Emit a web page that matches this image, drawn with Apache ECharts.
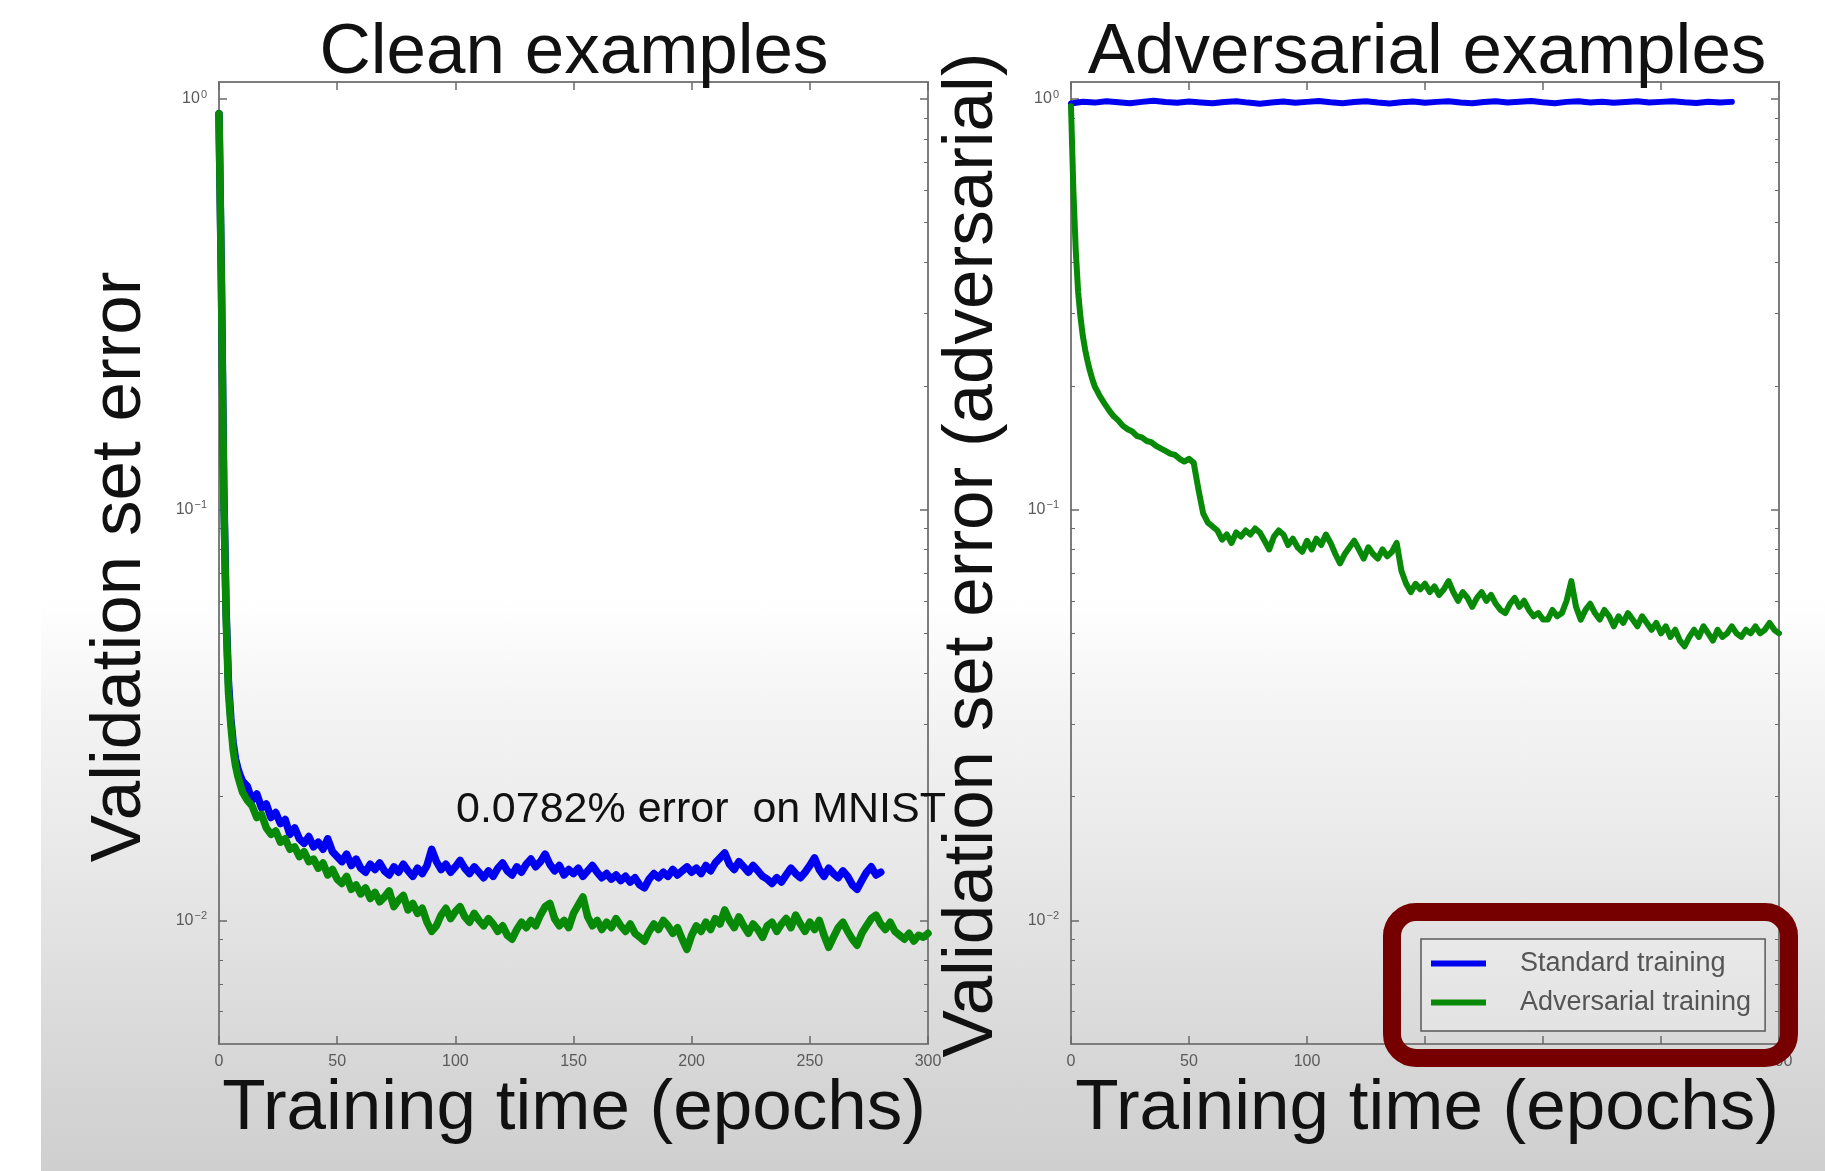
<!DOCTYPE html>
<html>
<head>
<meta charset="utf-8">
<script src="https://cdn.jsdelivr.net/npm/echarts@6/dist/echarts.min.js"></script>
<style>
  html, body { margin: 0; padding: 0; }
  #wrap {
    position: relative; width: 1825px; height: 1171px; overflow: hidden;
    background: linear-gradient(to bottom, #ffffff 0px, #ffffff 600px, #f3f3f3 720px, #e9e9e9 850px, #dedede 980px, #d4d4d4 1100px, #cfcfcf 1171px);
  }
  #strip { position: absolute; left: 0; top: 0; width: 41px; height: 1171px; background: #ffffff; }
  #chart { position: absolute; left: 0; top: 0; width: 1825px; height: 1171px; }
</style>
</head>
<body>
<div id="wrap"><div id="strip"></div><div id="chart"></div></div>
<script>
// Training epochs at which the validation error was recorded
const epochs = [0,1,2,3,4,5,6,7,8,9,10,12,14,16,18,20,22,24,26,28,30,32,34,36,38,40,42,44,46,48,50,
  52,54,56,58,60,62,64,66,68,70,72,74,76,78,80,82,84,86,88,90,92,94,96,98,100,
  102,104,106,108,110,112,114,116,118,120,122,124,126,128,130,132,134,136,138,140,142,144,146,148,150,
  152,154,156,158,160,162,164,166,168,170,172,174,176,178,180,182,184,186,188,190,192,194,196,198,200,
  202,204,206,208,210,212,214,216,218,220,222,224,226,228,230,232,234,236,238,240,242,244,246,248,250,
  252,254,256,258,260,262,264,266,268,270,272,274,276,278,280,282,284,286,288,290,292,294,296,298,300];

// Standard-training model evaluated on the adversarial set is logged every 5 epochs
const advStdEpochs = [0,5,10,15,20,25,30,35,40,45,50,55,60,65,70,75,80,85,90,95,100,105,110,115,120,125,130,135,140,145,
  150,155,160,165,170,175,180,185,190,195,200,205,210,215,220,225,230,235,240,245,250,255,260,265,270,275,280];

// Clean validation error, standard training
const cleanStd = [0.92,0.37,0.115,0.057,0.038,0.031,0.027,0.0247,0.0234,0.0225,0.0218,
  0.0212,0.0196,0.0203,0.0188,0.0192,0.0178,0.0183,0.0172,0.0176,0.0162,0.0168,0.0158,0.0154,0.0160,0.0151,0.0155,0.0149,0.0158,0.0147,0.0143,
  0.0139,0.0145,0.0136,0.0141,0.0134,0.0131,0.0137,0.0133,0.0138,0.0132,0.0129,0.0135,0.0131,0.0137,0.0132,0.0128,0.0134,0.0130,0.0136,0.0149,0.0139,0.0133,0.0137,0.0131,0.0135,
  0.0140,0.0134,0.0130,0.0135,0.0131,0.0127,0.0132,0.0128,0.0134,0.0138,0.0132,0.0129,0.0135,0.0131,0.0137,0.0141,0.0135,0.0139,0.0145,0.0137,0.0132,0.0136,0.0129,0.0133,0.0130,
  0.0134,0.0128,0.0132,0.0136,0.0131,0.0127,0.0130,0.0126,0.0129,0.0125,0.0128,0.0124,0.0127,0.0122,0.0120,0.0126,0.0130,0.0127,0.0131,0.0128,0.0133,0.0129,0.0132,0.0135,0.0131,
  0.0134,0.0130,0.0136,0.0132,0.0138,0.0142,0.0146,0.0137,0.0133,0.0139,0.0135,0.0131,0.0136,0.0132,0.0128,0.0126,0.0123,0.0127,0.0124,0.0129,0.0134,0.0130,0.0127,0.0131,0.0136,
  0.0142,0.0133,0.0128,0.0134,0.0130,0.0127,0.0132,0.0128,0.0122,0.0119,0.0125,0.0131,0.0135,0.0129,0.0131];

// Clean validation error, adversarial training
const cleanAdv = [0.92,0.36,0.11,0.055,0.036,0.030,0.026,0.0238,0.0224,0.0214,0.0205,
  0.0196,0.0190,0.0178,0.0181,0.0168,0.0162,0.0165,0.0155,0.0158,0.0149,0.0151,0.0143,0.0147,0.0139,0.0141,0.0134,0.0138,0.0129,0.0133,0.0126,
  0.0123,0.0128,0.0119,0.0122,0.0116,0.0120,0.0113,0.0117,0.0111,0.0114,0.0118,0.0108,0.0112,0.0115,0.0106,0.0110,0.0104,0.0107,0.0099,0.0094,0.0097,0.0103,0.0107,0.0101,0.0105,
  0.0108,0.0102,0.0099,0.0104,0.0100,0.0097,0.0101,0.0098,0.0094,0.0097,0.0092,0.0090,0.0095,0.0099,0.0096,0.0100,0.0097,0.0103,0.0108,0.0110,0.0101,0.0097,0.0100,0.0096,0.0104,
  0.0109,0.0114,0.0102,0.0097,0.0100,0.0095,0.0099,0.0096,0.0101,0.0097,0.0094,0.0098,0.0093,0.0091,0.0089,0.0094,0.0098,0.0095,0.0100,0.0097,0.0093,0.0096,0.0090,0.0085,0.0092,
  0.0097,0.0094,0.0099,0.0095,0.0101,0.0098,0.0106,0.0100,0.0096,0.0102,0.0097,0.0093,0.0098,0.0095,0.0091,0.0097,0.0099,0.0094,0.0098,0.0101,0.0096,0.0103,0.0098,0.0094,0.0099,
  0.0095,0.0100,0.0092,0.0086,0.0091,0.0096,0.0099,0.0094,0.0090,0.0087,0.0093,0.0097,0.0101,0.0103,0.0098,0.0095,0.0099,0.0094,0.0092,0.0090,0.0093,0.0089,0.0092,0.0091,0.0093];

// Adversarial validation error, standard training
const advStd = [0.975,0.985,0.980,0.988,0.982,0.977,0.984,0.990,0.983,0.979,0.986,0.981,0.976,0.983,0.988,0.980,0.974,0.981,0.986,0.979,
  0.984,0.989,0.982,0.977,0.983,0.987,0.980,0.975,0.982,0.986,0.979,0.984,0.988,0.981,0.976,0.983,0.987,0.980,0.985,0.989,
  0.982,0.977,0.984,0.988,0.981,0.985,0.979,0.983,0.987,0.980,0.984,0.988,0.982,0.978,0.985,0.981,0.984];

// Adversarial validation error, adversarial training
const advAdv = [0.96,0.60,0.43,0.34,0.295,0.265,0.245,0.230,0.218,0.208,0.200,
  0.190,0.182,0.175,0.169,0.165,0.160,0.157,0.155,0.151,0.150,0.147,0.146,0.143,0.141,0.139,0.137,0.136,0.133,0.131,0.133,
  0.130,0.112,0.098,0.093,0.091,0.089,0.0845,0.087,0.083,0.088,0.086,0.089,0.087,0.090,0.088,0.084,0.080,0.086,0.089,0.087,0.082,0.085,0.081,0.079,0.084,
  0.080,0.085,0.082,0.087,0.083,0.078,0.074,0.078,0.081,0.084,0.080,0.076,0.081,0.078,0.076,0.080,0.077,0.079,0.083,0.071,0.066,0.063,0.066,0.064,0.066,
  0.063,0.065,0.062,0.064,0.067,0.063,0.060,0.063,0.061,0.058,0.061,0.063,0.060,0.062,0.059,0.057,0.056,0.059,0.061,0.058,0.060,0.057,0.055,0.056,0.054,
  0.054,0.057,0.055,0.056,0.060,0.067,0.058,0.054,0.057,0.059,0.056,0.054,0.057,0.055,0.052,0.055,0.053,0.056,0.054,0.052,0.055,0.053,0.051,0.053,0.050,
  0.052,0.049,0.051,0.048,0.0465,0.049,0.051,0.049,0.052,0.050,0.048,0.051,0.049,0.050,0.052,0.050,0.049,0.051,0.050,0.052,0.050,0.051,0.053,0.051,0.050];

// Axis ticks
const xTicks = [0, 50, 100, 150, 200, 250, 300];
const yMajor = [0.01, 0.1, 1];
const yMinor = [0.006, 0.007, 0.008, 0.009, 0.02, 0.03, 0.04, 0.05, 0.06, 0.07, 0.08, 0.09,
  0.2, 0.3, 0.4, 0.5, 0.6, 0.7, 0.8, 0.9];

const FONT = '"Liberation Sans", Arial, Helvetica, sans-serif';
const BLUE = '#0000f0';
const GREEN = '#088a08';
const TICK = '#6a6a6a';
const TICKTXT = '#5a5a5a';

const pairs = (xs, ys) => ys.map((v, i) => [xs[i], v]);

function xAxisFor(g, pos) {
  return {
    type: 'value', gridIndex: g, position: pos,
    min: xTicks[0], max: xTicks[xTicks.length - 1], interval: 50,
    axisLine: { show: false }, splitLine: { show: false },
    axisTick: { show: true, inside: true, length: 8, lineStyle: { color: TICK, width: 1.5 } },
    axisLabel: { show: pos === 'bottom', margin: 10, color: TICKTXT, fontSize: 16, fontFamily: FONT }
  };
}

function decadeLabel(v) {
  const e = Math.round(Math.log10(v));
  return '{b|10}{s|' + String(e).replace('-', '\u2212') + '}';
}

function yAxisFor(g, pos, major) {
  return {
    type: 'log', logBase: 10, gridIndex: g, position: pos,
    min: 0.005, max: 1.1,
    axisLine: { show: false }, splitLine: { show: false }, minorTick: { show: false },
    axisTick: {
      show: true, inside: true, length: major ? 8 : 4,
      customValues: major ? yMajor : yMinor,
      lineStyle: { color: TICK, width: major ? 1.5 : 1 }
    },
    axisLabel: {
      show: major && pos === 'left', customValues: yMajor, margin: 12,
      formatter: decadeLabel,
      rich: {
        b: { fontSize: 16, color: TICKTXT, fontFamily: FONT },
        s: { fontSize: 11, color: TICKTXT, fontFamily: FONT, padding: [0, 0, 9, 1] }
      }
    }
  };
}

function lineSeries(name, data, g, color, width) {
  return {
    name: name, type: 'line', data: data,
    xAxisIndex: g * 2, yAxisIndex: g * 4,
    showSymbol: false, symbol: 'none', clip: true,
    color: color, itemStyle: { color: color },
    lineStyle: { color: color, width: width, join: 'round', cap: 'round' }
  };
}

const bigFont = (size) => size + 'px ' + FONT;
function label(text, x, y, size, rot, align) {
  return {
    type: 'text', x: x, y: y, rotation: rot || 0, z: 60,
    style: { text: text, font: bigFont(size), fill: '#111', align: align || 'center', verticalAlign: 'middle' }
  };
}

const chart = echarts.init(document.getElementById('chart'), null, { renderer: 'canvas' });
chart.setOption({
  animation: false,
  backgroundColor: 'transparent',
  grid: [
    { left: 219, top: 82, width: 709, height: 962, show: true, borderColor: '#7d7d7d', borderWidth: 2, backgroundColor: 'transparent' },
    { left: 1071, top: 82, width: 708, height: 962, show: true, borderColor: '#7d7d7d', borderWidth: 2, backgroundColor: 'transparent' }
  ],
  xAxis: [xAxisFor(0, 'bottom'), xAxisFor(0, 'top'), xAxisFor(1, 'bottom'), xAxisFor(1, 'top')],
  yAxis: [
    yAxisFor(0, 'left', true), yAxisFor(0, 'left', false), yAxisFor(0, 'right', true), yAxisFor(0, 'right', false),
    yAxisFor(1, 'left', true), yAxisFor(1, 'left', false), yAxisFor(1, 'right', true), yAxisFor(1, 'right', false)
  ],
  legend: {
    data: ['Standard training', 'Adversarial training'],
    orient: 'vertical', left: 1421, top: 939,
    padding: [11, 14, 15, 10], itemGap: 12,
    itemWidth: 84, itemHeight: 6,
    icon: 'path://M0,0H55V6H0Z M84,3L84.01,3',
    itemStyle: { borderWidth: 0 },
    textStyle: { fontSize: 27, color: '#555', fontFamily: FONT, lineHeight: 27 },
    borderColor: '#5a5a5a', borderWidth: 1.5, backgroundColor: 'rgba(255,255,255,0.25)',
    selectedMode: false, z: 20
  },
  series: [
    lineSeries('Standard training', pairs(epochs, cleanStd), 0, BLUE, 7.5),
    lineSeries('Adversarial training', pairs(epochs, cleanAdv), 0, GREEN, 7.5),
    lineSeries('Standard training', pairs(advStdEpochs, advStd), 1, BLUE, 6),
    lineSeries('Adversarial training', pairs(epochs, advAdv), 1, GREEN, 6)
  ],
  graphic: {
    elements: [
      label('Clean examples', 574, 53, 71),
      label('Adversarial examples', 1427, 53, 71),
      label('Training time (epochs)', 574, 1109, 71),
      label('Training time (epochs)', 1427, 1109, 71),
      label('Validation set error', 120, 567, 71, Math.PI / 2),
      label('Validation set error (adversarial)', 972, 555, 71, Math.PI / 2),
      label('0.0782% error  on MNIST', 456, 810, 43, 0, 'left'),
      {
        type: 'rect', z: 100,
        shape: { x: 1392, y: 912, width: 397, height: 146, r: 24 },
        style: { fill: 'none', stroke: '#760000', lineWidth: 18 }
      }
    ]
  }
});
</script>
</body>
</html>
